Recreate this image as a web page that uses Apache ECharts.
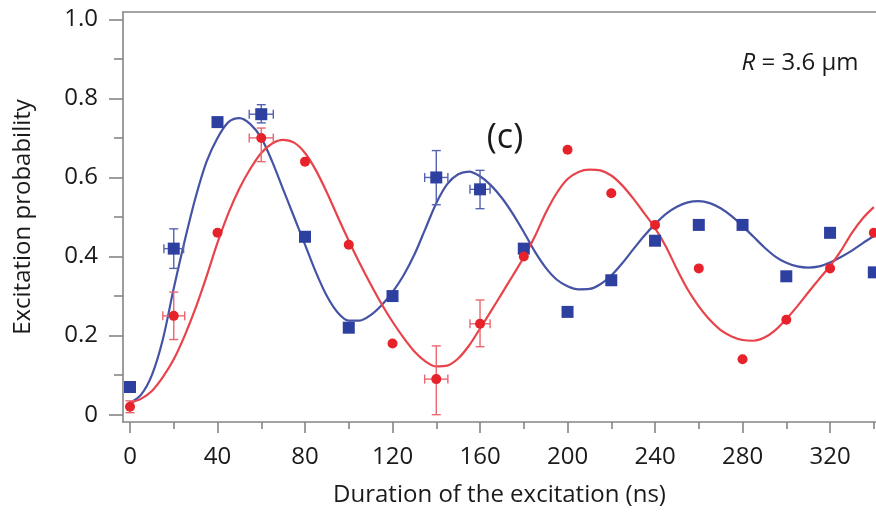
<!DOCTYPE html>
<html>
<head>
<meta charset="utf-8">
<script src="https://cdn.jsdelivr.net/npm/echarts@6/dist/echarts.min.js"></script>
<style>
  html, body { margin: 0; padding: 0; background: #fff; }
  #chart { width: 876px; height: 512px; }
</style>
</head>
<body>
<div id="chart"></div>
<script>
// ---- data ----
const blueX = [0, 20, 40, 60, 80, 100, 120, 140, 160, 180, 200, 220, 240, 260, 280, 300, 320, 340];
const blueY = [0.07, 0.42, 0.74, 0.76, 0.45, 0.22, 0.30, 0.60, 0.57, 0.42, 0.26, 0.34, 0.44, 0.48, 0.48, 0.35, 0.46, 0.36];
const redX  = [0, 20, 40, 60, 80, 100, 120, 140, 160, 180, 200, 220, 240, 260, 280, 300, 320, 340];
const redY  = [0.02, 0.25, 0.46, 0.70, 0.64, 0.43, 0.18, 0.09, 0.23, 0.40, 0.67, 0.56, 0.48, 0.37, 0.14, 0.24, 0.37, 0.46];

// error bars: [x, y, yLow, yHigh, xLow, xHigh]
const blueErr = [
  [20, 0.42, 0.37, 0.47, 15.5, 24.5],
  [60, 0.76, 0.738, 0.784, 54.5, 65.5],
  [140, 0.60, 0.531, 0.668, 134.7, 145.3],
  [160, 0.57, 0.521, 0.618, 155.4, 164.6]
];
const redErr = [
  [0, 0.02, 0.005, 0.035, 0, 0],
  [20, 0.25, 0.19, 0.31, 15, 25],
  [60, 0.70, 0.64, 0.725, 54.5, 65.5],
  [140, 0.09, 0.0, 0.174, 134.7, 145.3],
  [160, 0.23, 0.172, 0.29, 155.4, 164.6]
];

// fitted curves (every 5 ns)
const fitX = [0,5,10,15,20,25,30,35,40,45,50,55,60,65,70,75,80,85,90,95,100,105,110,115,120,125,130,135,140,145,150,155,160,165,170,175,180,185,190,195,200,205,210,215,220,225,230,235,240,245,250,255,260,265,270,275,280,285,290,295,300,305,310,315,320,325,330,335,340];
const blueFit = [0.03,0.05,0.10,0.19,0.32,0.44,0.55,0.64,0.70,0.74,0.75,0.735,0.70,0.64,0.57,0.50,0.43,0.36,0.30,0.258,0.238,0.238,0.252,0.277,0.31,0.352,0.405,0.47,0.535,0.583,0.608,0.615,0.603,0.58,0.548,0.508,0.462,0.413,0.372,0.342,0.325,0.317,0.318,0.33,0.352,0.383,0.418,0.452,0.482,0.508,0.526,0.537,0.54,0.535,0.522,0.502,0.477,0.45,0.423,0.4,0.384,0.375,0.372,0.375,0.385,0.399,0.415,0.434,0.452];
const redFit  = [0.03,0.04,0.06,0.095,0.14,0.20,0.27,0.35,0.435,0.51,0.572,0.622,0.662,0.686,0.695,0.688,0.662,0.618,0.562,0.50,0.44,0.383,0.33,0.28,0.235,0.195,0.16,0.135,0.122,0.124,0.142,0.175,0.218,0.262,0.307,0.352,0.398,0.45,0.51,0.56,0.596,0.614,0.62,0.618,0.605,0.58,0.547,0.51,0.472,0.425,0.368,0.316,0.274,0.24,0.214,0.198,0.189,0.187,0.195,0.214,0.242,0.274,0.309,0.343,0.376,0.415,0.46,0.497,0.525];

// ticks
const xMajorTicks = [0, 40, 80, 120, 160, 200, 240, 280, 320];
const xMinorTicks = [20, 60, 100, 140, 180, 220, 260, 300, 340];
const yMajorTicks = [0, 0.2, 0.4, 0.6, 0.8, 1.0];
const yMinorTicks = [0.1, 0.3, 0.5, 0.7, 0.9];

const BLUE = '#2d3f9f', BLUE_LINE = '#4553a4', BLUE_ERR = '#5563b0';
const RED = '#e6232b', RED_LINE = '#e8434a', RED_ERR = '#ea6670';
const AXIS = '#858585';
const FONT = 'Open Sans';
const TXT = '#1a1a1a';

function errRender(color) {
  return function (params, api) {
    const x = api.value(0), y = api.value(1);
    const yl = api.value(2), yh = api.value(3);
    const xl = api.value(4), xh = api.value(5);
    const pLo = api.coord([x, yl]), pHi = api.coord([x, yh]);
    const pL = api.coord([xl, y]), pR = api.coord([xh, y]);
    const cap = 4.5;
    const style = { stroke: color, lineWidth: 1.4 };
    const children = [
      { type: 'line', shape: { x1: pLo[0], y1: pLo[1], x2: pHi[0], y2: pHi[1] }, style },
      { type: 'line', shape: { x1: pLo[0] - cap, y1: pLo[1], x2: pLo[0] + cap, y2: pLo[1] }, style },
      { type: 'line', shape: { x1: pHi[0] - cap, y1: pHi[1], x2: pHi[0] + cap, y2: pHi[1] }, style }
    ];
    if (xh > xl) {
      children.push(
        { type: 'line', shape: { x1: pL[0], y1: pL[1], x2: pR[0], y2: pR[1] }, style },
        { type: 'line', shape: { x1: pL[0], y1: pL[1] - cap, x2: pL[0], y2: pL[1] + cap }, style },
        { type: 'line', shape: { x1: pR[0], y1: pR[1] - cap, x2: pR[0], y2: pR[1] + cap }, style }
      );
    }
    return { type: 'group', children };
  };
}

const chart = echarts.init(document.getElementById('chart'), null, { renderer: 'canvas' });
const axisLineStyle = { color: AXIS, width: 1.6 };

chart.setOption({
  animation: false,
  backgroundColor: '#ffffff',
  textStyle: { fontFamily: FONT },
  grid: { left: 123, right: 0, top: 12, bottom: 89, containLabel: false },
  title: [
    {
      text: '(c)', left: 500, top: 133, textAlign: 'center', textVerticalAlign: 'middle',
      textStyle: { fontFamily: FONT, fontSize: 34, fontWeight: 'normal', color: TXT }
    },
    {
      text: '{i|R} = 3.6 μm', left: 795, top: 58, textAlign: 'center', textVerticalAlign: 'middle',
      textStyle: {
        fontFamily: FONT, fontSize: 24, fontWeight: 'normal', color: TXT,
        rich: { i: { fontFamily: FONT, fontSize: 24, fontStyle: 'italic', color: TXT } }
      }
    }
  ],
  xAxis: [
    {
      type: 'value', min: -3.2, max: 341, position: 'bottom',
      axisLine: { show: true, onZero: false, lineStyle: axisLineStyle },
      axisTick: { show: true, customValues: xMajorTicks, length: 11, lineStyle: axisLineStyle },
      axisLabel: { show: true, customValues: xMajorTicks, margin: 23, fontSize: 24, color: TXT, fontFamily: FONT },
      splitLine: { show: false },
      name: 'Duration of the excitation (ns)', nameLocation: 'middle', nameGap: 61,
      nameTextStyle: { fontSize: 24, color: TXT, fontFamily: FONT }
    },
    {
      type: 'value', min: -3.2, max: 341, position: 'bottom',
      axisLine: { show: false, onZero: false },
      axisTick: { show: true, customValues: xMinorTicks, length: 7, lineStyle: axisLineStyle },
      axisLabel: { show: false },
      splitLine: { show: false }
    },
    {
      type: 'value', min: -3.2, max: 341, position: 'top',
      axisLine: { show: true, onZero: false, lineStyle: axisLineStyle },
      axisTick: { show: false }, axisLabel: { show: false }, splitLine: { show: false }
    }
  ],
  yAxis: [
    {
      type: 'value', min: -0.0185, max: 1.0185, position: 'left',
      axisLine: { show: true, onZero: false, lineStyle: axisLineStyle },
      axisTick: { show: true, customValues: yMajorTicks, length: 14, lineStyle: axisLineStyle },
      axisLabel: {
        show: true, customValues: yMajorTicks, margin: 25, fontSize: 24, color: TXT, fontFamily: FONT,
        formatter: v => (v === 0 ? '0' : v.toFixed(1))
      },
      splitLine: { show: false },
      name: 'Excitation probability', nameLocation: 'middle', nameGap: 88,
      nameTextStyle: { fontSize: 24, color: TXT, fontFamily: FONT }
    },
    {
      type: 'value', min: -0.0185, max: 1.0185, position: 'left',
      axisLine: { show: false, onZero: false },
      axisTick: { show: true, customValues: yMinorTicks, length: 9, lineStyle: axisLineStyle },
      axisLabel: { show: false },
      splitLine: { show: false }
    }
  ],
  series: [
    {
      type: 'line', name: 'blue fit', xAxisIndex: 0, yAxisIndex: 0,
      data: fitX.map((x, i) => [x, blueFit[i]]),
      smooth: 0.3, showSymbol: false, lineStyle: { color: BLUE_LINE, width: 2.2 }, z: 2
    },
    {
      type: 'line', name: 'red fit', xAxisIndex: 0, yAxisIndex: 0,
      data: fitX.map((x, i) => [x, redFit[i]]),
      smooth: 0.3, showSymbol: false, lineStyle: { color: RED_LINE, width: 2.2 }, z: 2
    },
    {
      type: 'custom', name: 'blue err', xAxisIndex: 0, yAxisIndex: 0,
      renderItem: errRender(BLUE_ERR), data: blueErr, z: 3
    },
    {
      type: 'custom', name: 'red err', xAxisIndex: 0, yAxisIndex: 0,
      renderItem: errRender(RED_ERR), data: redErr, z: 3
    },
    {
      type: 'scatter', name: 'blue', xAxisIndex: 0, yAxisIndex: 0,
      data: blueX.map((x, i) => [x, blueY[i]]),
      symbol: 'rect', symbolSize: 12, itemStyle: { color: BLUE, opacity: 1 }, z: 4
    },
    {
      type: 'scatter', name: 'red', xAxisIndex: 0, yAxisIndex: 0,
      data: redX.map((x, i) => [x, redY[i]]),
      symbol: 'circle', symbolSize: 10, itemStyle: { color: RED, opacity: 1 }, z: 5
    }
  ]
});
</script>
</body>
</html>
